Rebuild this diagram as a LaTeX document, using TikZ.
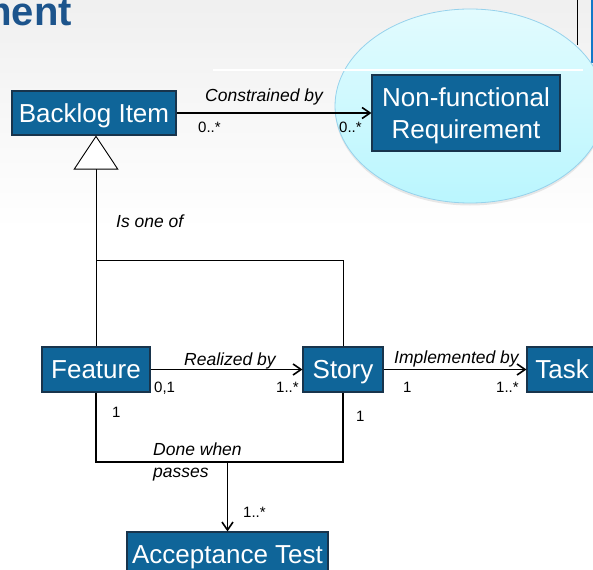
\documentclass[tikz,border=0pt]{standalone}
\usepackage{fontspec}
\setmainfont{Liberation Sans}
\usetikzlibrary{arrows.meta}
\definecolor{boxblue}{RGB}{15,101,153}
\definecolor{boxedge}{RGB}{24,52,76}
\definecolor{titleblue}{RGB}{28,84,140}
\definecolor{cloudtop}{RGB}{226,251,254}
\definecolor{cloudbottom}{RGB}{186,246,254}
\definecolor{cloudedge}{RGB}{150,210,236}
\definecolor{edgeblue}{RGB}{20,120,200}
\tikzset{
  umlbox/.style={draw=boxedge, fill=boxblue, text=white, line width=1.1pt,
    inner sep=0pt, align=center, font=\fontsize{26}{32}\selectfont,
    text height=18.6pt, text depth=0pt},
  rolelabel/.style={anchor=base west, inner sep=0pt, font=\itshape\fontsize{17.5}{21}\selectfont},
  multlabel/.style={anchor=base west, inner sep=0pt, font=\fontsize{15}{18}\selectfont},
  assoc/.style={line width=1.6pt, -{Straight Barb[length=8pt,width=11pt]}},
  assocline/.style={line width=1.6pt},
  genline/.style={line width=0.9pt},
}
\begin{document}
\begin{tikzpicture}[x=1pt,y=-1pt]
  % page background
  \useasboundingbox (0,0) rectangle (593,569);
  \fill[white] (0,0) rectangle (593,569);
  \shade[top color=black!6, bottom color=white] (0,0) rectangle (593,230);

  % slide title fragment
  \node[anchor=base east, inner sep=0pt, text=titleblue,
        font=\bfseries\fontsize{40}{44}\selectfont] (title) at (72,26) {ment};

  % frame lines at the upper right
  \draw[line width=0.8pt] (577,0) -- (577,45);
  \draw[edgeblue, line width=1.5pt] (592,0) -- (592,63);

  % highlight cloud behind the requirement
  \fill[black!25, opacity=0.35] (470,108.5) ellipse [x radius=135, y radius=97];
  \shade[top color=cloudtop, bottom color=cloudbottom, draw=cloudedge, line width=0.8pt]
        (470,106) ellipse [x radius=135, y radius=97];
  \draw[white, line width=2pt] (213,70.5) -- (583,70.5);

  % classes
  \node[umlbox, minimum width=164pt, minimum height=44pt] (backlog) at (94,113) {Backlog Item};
  \node[umlbox, text height=, text depth=0pt, minimum width=188pt, minimum height=76pt]
        (nfr) at (466,113) {Non-functional\\Requirement};
  \node[umlbox, minimum width=108pt, minimum height=45pt] (feature) at (96,369.5) {Feature};
  \node[umlbox, minimum width=80pt, minimum height=45pt] (story) at (343,369.5) {Story};
  \node[umlbox, minimum width=70pt, minimum height=45pt] (task) at (562,369.5) {Task};
  \node[umlbox, minimum width=201pt, minimum height=45pt] (accept) at (227.5,554.5) {Acceptance Test};

  % junction points
  \coordinate (genjoin) at (96,260);
  \coordinate (donejoin) at (227.5,462);

  % generalization
  \draw[genline, -{Triangle[open, fill=white, length=34pt, width=45pt, line width=0.9pt]}]
        (feature.north) -- (feature.north |- backlog.south);
  \draw[genline] (story.north) |- (genjoin);
  \node[rolelabel] (isone) at (116,227) {Is one of};

  % constrained by
  \draw[assoc] (backlog.east) -- (nfr.west);
  \node[rolelabel] (constr) at (205,102) {Constrained by};
  \node[multlabel] (m1) at (198,133) {0..*};
  \node[multlabel] (m2) at (339,133) {0..*};

  % realized by
  \draw[assoc] (feature.east) -- (story.west);
  \node[rolelabel] (real) at (184,365) {Realized by};
  \node[multlabel] (m3) at (154,392) {0,1};
  \node[multlabel] (m4) at (276,392) {1..*};

  % implemented by
  \draw[assoc] (story.east) -- (task.west);
  \node[rolelabel] (impl) at (394,363) {Implemented by};
  \node[multlabel] (m5) at (403,392) {1};
  \node[multlabel] (m6) at (496,392) {1..*};

  % done when passes
  \draw[assocline] (feature.south) -- (feature.south |- donejoin)
        -- (story.south |- donejoin) -- (story.south);
  \draw[assoc] (donejoin) -- (accept.north);
  \node[multlabel] (m7) at (112,417) {1};
  \node[multlabel] (m8) at (356,421) {1};
  \node[rolelabel] (done1) at (153,455) {Done when};
  \node[rolelabel] (done2) at (153,477) {passes};
  \node[multlabel] (m9) at (243,517) {1..*};
\end{tikzpicture}
\end{document}
